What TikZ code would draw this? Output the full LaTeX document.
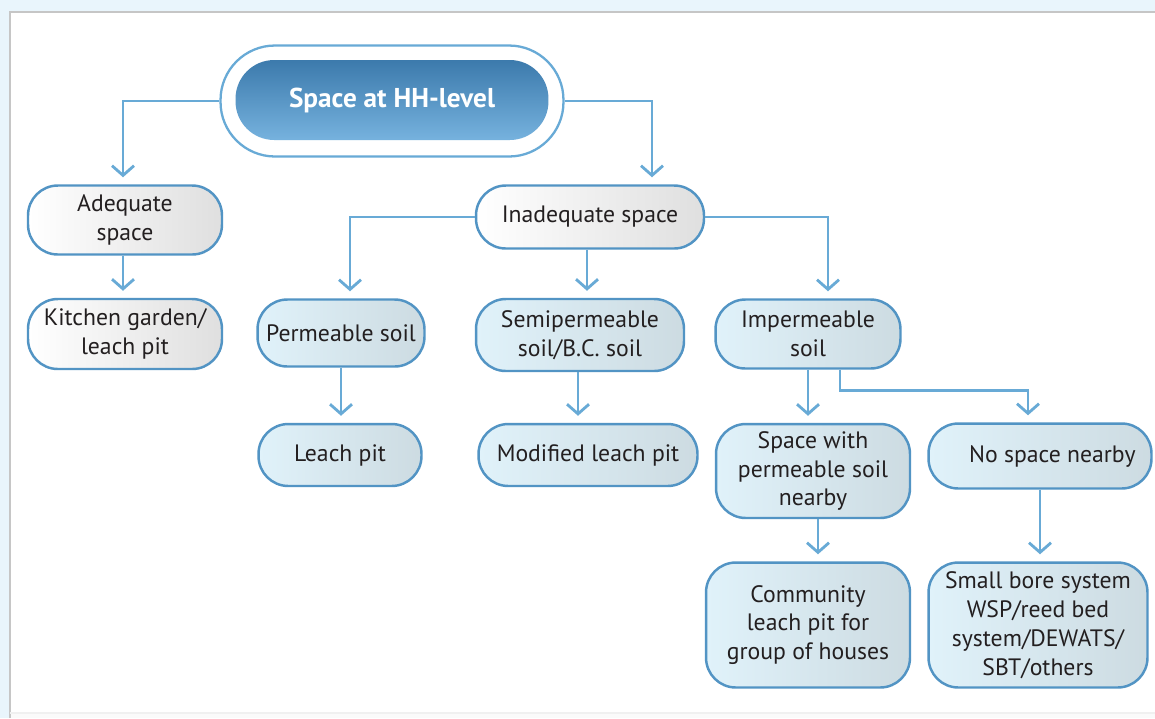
\documentclass[tikz,border=0pt]{standalone}
\usepackage{fontspec}
\setmainfont{PT Sans}
\usetikzlibrary{arrows.meta}
\definecolor{bgcol}{RGB}{233,245,252}
\definecolor{linecol}{RGB}{104,170,214}
\definecolor{edgecol}{RGB}{82,148,196}
\definecolor{boxfill}{RGB}{224,242,250}
\definecolor{titletop}{RGB}{60,122,172}
\definecolor{titlebot}{RGB}{118,178,222}
\definecolor{txtcol}{RGB}{35,31,32}
\newcommand\boxfont{\fontsize{13.5}{16.4}\selectfont}
\tikzset{
  box/.style={draw=edgecol,line width=1.4pt,rounded corners=17pt,align=center,
    text=txtcol,inner sep=2pt,font=\boxfont},
  whitebox/.style={box,left color=white,middle color=white,right color=gray!25},
  bluebox/.style={box,left color=boxfill,middle color=boxfill,right color=boxfill!80!gray},
  conn/.style={draw=linecol,line width=1.6pt,-{Straight Barb[length=5.5pt,width=12.5pt]},
    shorten >=4pt}
}
\begin{document}
\begin{tikzpicture}[x=0.02cm,y=-0.02cm]
\useasboundingbox (0,0) rectangle (1155,718);
% frame
\fill[bgcol] (0,0) rectangle (1155,718);
\fill[gray!4] (10,713) rectangle (1155,718);
\fill[white] (10,12) rectangle (1155,713);
\draw[gray!45,line width=1pt] (10,718) -- (10,12) -- (1155,12);
\draw[gray!12,line width=1pt] (10,713) -- (1155,713);

% top
\node[draw=linecol,line width=1.3pt,fill=white,rounded corners=31pt,
  minimum width=6.86cm,minimum height=2.22cm] (ring) at (392,101) {};
\node[top color=titletop,bottom color=titlebot,rounded corners=22pt,text=white,
  minimum width=6.26cm,minimum height=1.6cm,font=\fontsize{15.5}{18}\selectfont\bfseries]
  (hh) at (392,100) {Space at HH-level};

% second row
\node[whitebox,minimum width=3.88cm,minimum height=1.38cm] (adq) at (125,220) {Adequate\\space};
\node[whitebox,minimum width=4.56cm,minimum height=1.26cm] (inad) at (590,217) {Inadequate space};
\node[whitebox,minimum width=3.88cm,minimum height=1.4cm] (kit) at (125,334) {Kitchen garden/\\leach pit};

% soils
\node[bluebox,minimum width=3.34cm,minimum height=1.34cm] (perm) at (341,333) {Permeable soil};
\node[bluebox,minimum width=4.16cm,minimum height=1.44cm] (semi) at (580,335) {Semipermeable\\soil/B.C. soil};
\node[bluebox,minimum width=3.7cm,minimum height=1.38cm] (imp) at (808,334) {Impermeable\\soil};

% options
\node[bluebox,minimum width=3.26cm,minimum height=1.24cm] (leach) at (340,455) {Leach pit};
\node[bluebox,minimum width=4.38cm,minimum height=1.24cm] (mod) at (588,455) {Modified leach pit};
\node[bluebox,minimum width=3.88cm,minimum height=1.88cm] (spc) at (813,471) {Space with\\permeable soil\\nearby};
\node[bluebox,minimum width=4.46cm,minimum height=1.3cm] (nosp) at (1040,456) {\hspace{14pt}No space nearby};
\node[bluebox,minimum width=4.08cm,minimum height=2.5cm] (comm) at (808,625) {Community\\leach pit for\\group of houses};
\node[bluebox,minimum width=4.38cm,minimum height=2.5cm] (sbs) at (1038,625) {Small bore system\\WSP/reed bed\\system/DEWATS/\\SBT/others};

% connectors
\draw[conn] (ring.west) -| ([xshift=-0.04cm]adq.north);
\draw[conn] (ring.east) -| ([xshift=1.24cm]inad.north);
\draw[conn] ([xshift=-0.04cm]adq.south) -- ([xshift=-0.04cm]adq.south |- kit.north);
\draw[conn] (inad.west) -| ([xshift=0.18cm]perm.north);
\draw[conn] ([xshift=-0.06cm]inad.south) -- ([xshift=-0.06cm]inad.south |- semi.north);
\draw[conn] (inad.east) -| ([xshift=0.4cm]imp.north);
\draw[conn] (perm.south) -- (perm.south |- leach.north);
\draw[conn] ([xshift=-0.04cm]semi.south) -- ([xshift=-0.04cm]semi.south |- mod.north);
\draw[conn] (imp.south) -- (imp.south |- spc.north);
\draw[conn] ([xshift=0.64cm]imp.south) -- ++(0,21) -| ([xshift=-0.24cm]nosp.north);
\draw[conn] ([xshift=0.1cm]spc.south) -- ([xshift=0.1cm]spc.south |- comm.north);
\draw[conn] (nosp.south) -- (nosp.south |- sbs.north);
\end{tikzpicture}
\end{document}
